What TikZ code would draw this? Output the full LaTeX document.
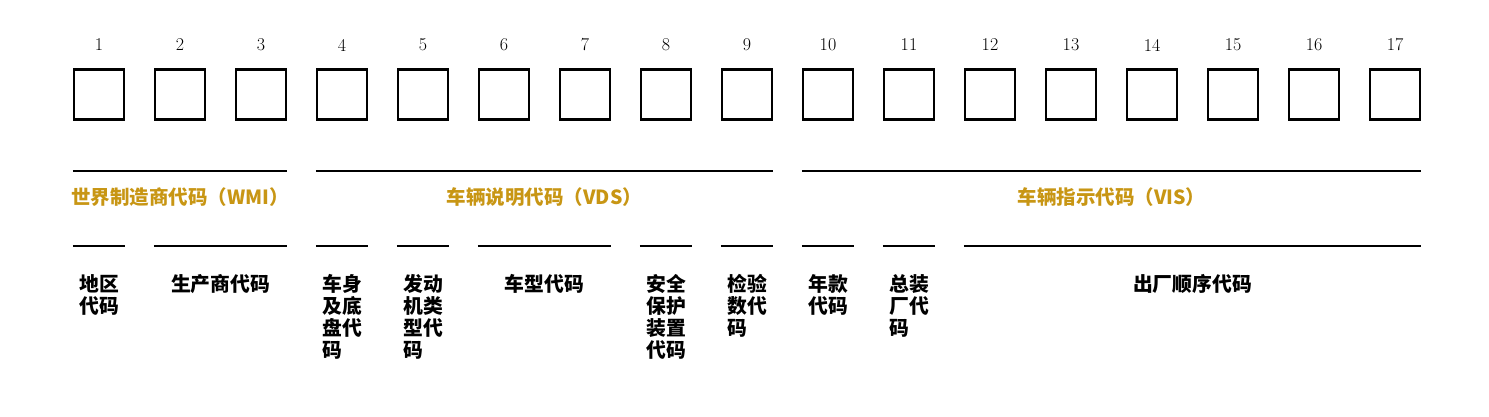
\documentclass[tikz,border=0pt]{standalone}
\usepackage{fontspec}
\usetikzlibrary{calc}
\newfontfamily\cjk{Noto Sans CJK SC}
\definecolor{gold}{RGB}{200,150,20}
\begin{document}
\begin{tikzpicture}[x=1pt,y=-1pt,
  cell/.style={draw=black,line width=2.1pt,minimum width=50pt,minimum height=50pt,inner sep=0pt},
  num/.style={font=\fontsize{18}{20}\selectfont,inner sep=0pt},
  seg/.style={line width=2.8pt},
  grp/.style={text=gold,font=\cjk\bfseries\fontsize{19.5}{22}\selectfont,inner sep=0pt},
  desc/.style={font=\cjk\bfseries\fontsize{19.8}{22}\selectfont,inner sep=0pt,anchor=north,align=left}]
\useasboundingbox (0,0) rectangle (1489,417);
\fill[white] (0,0) rectangle (1489,417);
\foreach \i in {1,...,17}{
  \node[cell] (b\i) at ({99+81*(\i-1)},94.5) {};
  \node[num] (n\i) at ({99+81*(\i-1)},45) {\i};
}
% upper group lines
\draw[seg] (b1.west |- 0,171) -- (b3.east |- 0,171);
\draw[seg] (b4.west |- 0,171) -- (b9.east |- 0,171);
\draw[seg] (b10.west |- 0,171) -- (b17.east |- 0,171);
\node[grp] (wmi) at ($(b1.west |- 0,197)!0.5!(b3.east |- 0,197)$) {世界制造商代码（WMI）};
\node[grp] (vds) at ($(b4.west |- 0,197)!0.5!(b9.east |- 0,197)$) {车辆说明代码（VDS）};
\node[grp] (vis) at ($(b10.west |- 0,197)!0.5!(b17.east |- 0,197)$) {车辆指示代码（VIS）};
% lower lines
\foreach \a/\b in {1/1,2/3,4/4,5/5,6/7,8/8,9/9,10/10,11/11,12/17}{
  \draw[seg] (b\a.west |- 0,246) -- (b\b.east |- 0,246);
}
% descriptions
\node[desc] (d1) at (b1 |- 0,274) {地区\\代码};
\node[desc] (d2) at ($(b2 |- 0,274)!0.5!(b3 |- 0,274)$) {生产商代码};
\node[desc] (d4) at (b4 |- 0,274) {车身\\及底\\盘代\\码};
\node[desc] (d5) at (b5 |- 0,274) {发动\\机类\\型代\\码};
\node[desc] (d6) at ($(b6 |- 0,274)!0.5!(b7 |- 0,274)$) {车型代码};
\node[desc] (d8) at (b8 |- 0,274) {安全\\保护\\装置\\代码};
\node[desc] (d9) at (b9 |- 0,274) {检验\\数代\\码};
\node[desc] (d10) at (b10 |- 0,274) {年款\\代码};
\node[desc] (d11) at (b11 |- 0,274) {总装\\厂代\\码};
\node[desc] (d12) at ($(b12 |- 0,274)!0.5!(b17 |- 0,274)$) {出厂顺序代码};
\end{tikzpicture}
\end{document}
